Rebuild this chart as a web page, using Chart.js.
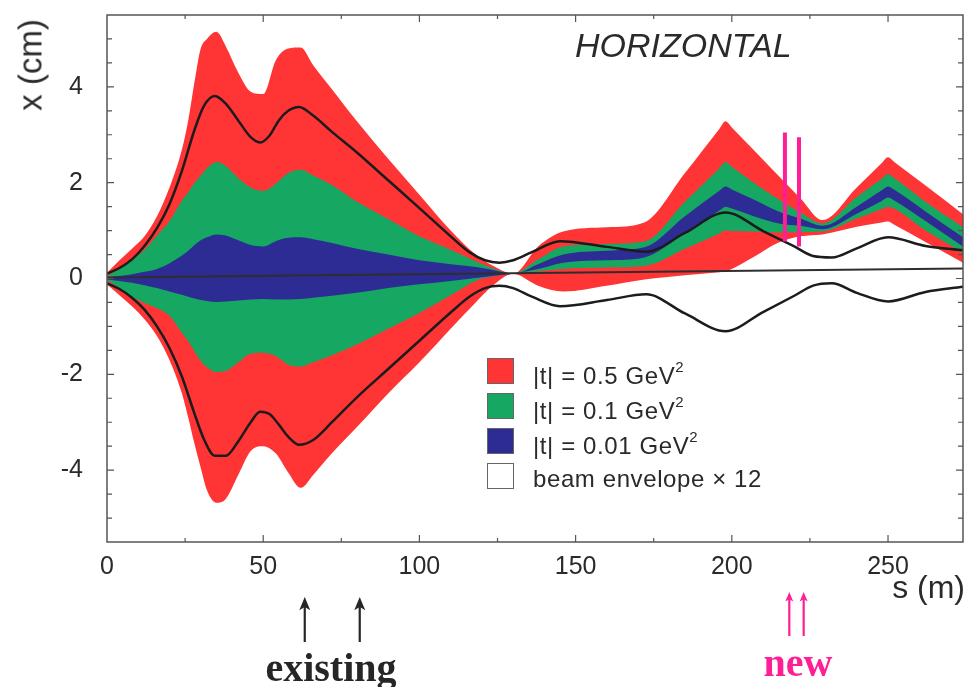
<!DOCTYPE html>
<html>
<head>
<meta charset="utf-8">
<script src="https://cdn.jsdelivr.net/npm/chart.js@4.4.1/dist/chart.umd.min.js"></script>
<style>
    body { margin: 0; background: #fff; }
    #wrap { position: relative; width: 970px; height: 687px; font-family: 'Liberation Sans', Arial, sans-serif; color: #2a2a2a; }
    #chart { position: absolute; left: 0; top: 0; }
    .txt { position: absolute; white-space: nowrap; line-height: 1; }
    .y-title { left: 30px; top: 65px; font-size: 33px; transform: translate(-50%, -50%) rotate(-90deg); }
    .x-title { right: 5px; top: 571px; font-size: 32px; }
    .plane { left: 575px; top: 28px; font-size: 34px; font-style: italic; }
    .note { font-family: 'Liberation Serif', 'Times New Roman', serif; font-weight: bold; font-size: 40px; transform: translateX(-50%); }
    .legend-row { position: absolute; left: 487px; height: 25px; }
    .legend-box { position: absolute; left: 0; top: 0; width: 25px; height: 24px; border: 1px solid #666; }
    .legend-text { position: absolute; left: 46px; top: 4px; font-size: 24px; letter-spacing: 0.6px; line-height: 1; white-space: nowrap; }
    .legend-text sup { font-size: 15px; position: relative; top: -3px; }
</style>
</head>
<body>
<div id="wrap">
    <canvas id="chart" width="970" height="687"></canvas>
    <div class="txt y-title">x (cm)</div>
    <div class="txt x-title">s (m)</div>
    <div class="txt plane">HORIZONTAL</div>
    <div class="txt note" style="left:331px; top:648px; color:#262626;">existing</div>
    <div class="txt note" style="left:798px; top:643px; color:#ff1e96;">new</div>
    <div id="legend"></div>
</div>
<script>
// s positions (m) shared by the six band edges
const sBand = [0, 4, 8, 12, 16, 20, 24, 26, 28, 30, 32, 35, 38, 42, 46, 50, 54, 58, 62, 66, 72, 80, 90, 100,
    110, 118, 124, 130, 138, 146, 160, 172, 185, 196, 198, 200, 207, 215, 222, 229, 240, 248, 250, 252, 262, 274];

// |t| = 0.5 GeV^2
const redUpper = [0.12, 0.38, 0.62, 0.88, 1.3, 1.9, 2.7, 3.3, 4.1, 4.8, 5.0, 5.15, 4.85, 4.3, 3.9, 3.85, 4.55, 4.8, 4.82, 4.45,
    3.95, 3.28, 2.5, 1.75, 1.0, 0.5, 0.25, 0.1, 0.67, 0.98, 1.07, 1.17, 2.2, 3.12, 3.28, 3.15, 2.68, 2.14, 1.67, 1.22, 1.9,
    2.41, 2.53, 2.43, 1.94, 1.34];
const redLower = [-0.12, -0.35, -0.58, -0.85, -1.2, -1.7, -2.4, -2.9, -3.45, -3.95, -4.42, -4.68, -4.6, -4.1, -3.6, -3.5, -3.65,
    -4.05, -4.37, -4.1, -3.65, -3.1, -2.4, -1.75, -1.05, -0.5, -0.12, 0.1, -0.15, -0.27, -0.15, -0.02, 0.07, 0.13, 0.15, 0.2,
    0.45, 0.75, 0.88, 0.92, 1.08, 1.17, 1.19, 1.12, 0.76, 0.33];

// |t| = 0.1 GeV^2
const greenUpper = [0.05, 0.2, 0.38, 0.6, 0.9, 1.2, 1.63, 1.8, 2.0, 2.15, 2.3, 2.43, 2.35, 2.1, 1.9, 1.83, 1.98, 2.2, 2.27, 2.15,
    1.95, 1.6, 1.24, 0.88, 0.6, 0.36, 0.2, 0.1, 0.4, 0.67, 0.72, 0.77, 1.6, 2.3, 2.43, 2.33, 2.0, 1.65, 1.38, 1.15, 1.7,
    2.08, 2.18, 2.1, 1.6, 1.07];
const greenLower = [-0.03, -0.2, -0.38, -0.51, -0.62, -0.78, -1.14, -1.31, -1.52, -1.72, -1.85, -1.95, -1.93, -1.75, -1.57, -1.55,
    -1.62, -1.8, -1.84, -1.75, -1.6, -1.38, -1.05, -0.72, -0.35, -0.05, 0.05, 0.1, 0.15, 0.2, 0.23, 0.26, 0.62, 0.94, 1.0, 0.99,
    0.98, 0.96, 0.97, 0.98, 1.25, 1.45, 1.5, 1.46, 1.0, 0.54];

// |t| = 0.01 GeV^2
const blueUpper = [0.02, 0.05, 0.09, 0.14, 0.2, 0.32, 0.48, 0.58, 0.7, 0.8, 0.86, 0.92, 0.9, 0.8, 0.7, 0.67, 0.78, 0.85, 0.86, 0.82,
    0.74, 0.62, 0.5, 0.38, 0.3, 0.24, 0.17, 0.1, 0.3, 0.5, 0.58, 0.65, 1.3, 1.83, 1.92, 1.86, 1.65, 1.4, 1.25, 1.1, 1.5,
    1.84, 1.92, 1.85, 1.4, 0.86];
const blueLower = [-0.02, -0.05, -0.09, -0.14, -0.2, -0.27, -0.34, -0.38, -0.42, -0.45, -0.47, -0.49, -0.48, -0.46, -0.44, -0.43,
    -0.44, -0.44, -0.43, -0.4, -0.36, -0.3, -0.2, -0.12, -0.05, 0.01, 0.06, 0.1, 0.2, 0.33, 0.38, 0.44, 0.95, 1.42, 1.5, 1.46,
    1.3, 1.15, 1.1, 1.03, 1.35, 1.62, 1.69, 1.63, 1.2, 0.67];

// beam envelope x 12
const sEnv = [0, 4, 8, 12, 16, 20, 24, 28, 31, 34.5, 38, 42, 46, 49, 52, 55, 58, 61.5, 66, 72, 80, 90, 100, 110, 116, 121,
    125.6, 130, 136, 145, 160, 172.6, 185, 198, 210, 220, 226, 232, 240, 250, 262, 274];
const envUpper = [0.1, 0.22, 0.4, 0.68, 1.05, 1.55, 2.25, 3.1, 3.6, 3.81, 3.65, 3.3, 2.95, 2.84, 2.98, 3.3, 3.5, 3.58, 3.4,
    3.06, 2.63, 2.05, 1.47, 0.88, 0.55, 0.38, 0.33, 0.38, 0.55, 0.78, 0.66, 0.56, 0.95, 1.38, 0.99, 0.67, 0.47, 0.44, 0.63, 0.86,
    0.68, 0.59];
const envLower = [-0.1, -0.22, -0.4, -0.65, -1.0, -1.45, -2.05, -2.82, -3.35, -3.7, -3.7, -3.4, -3.0, -2.78, -2.83, -3.05, -3.3,
    -3.47, -3.37, -3.0, -2.48, -1.89, -1.3, -0.71, -0.38, -0.2, -0.15, -0.2, -0.38, -0.58, -0.45, -0.33, -0.73, -1.1, -0.7, -0.36,
    -0.15, -0.1, -0.3, -0.48, -0.28, -0.17];

// closed orbit
const sOrbit = [0, 274];
const orbit = [0.02, 0.21];

// new detector stations
const sNew = [217, 221.5];
const newTop = [3.05, 2.95];
const newBottom = [0.77, 0.67];

// magnet markers under the axis
const sExisting = [63.3, 80.9];
const sNewMarks = [218.4, 223];

const xTicks = [0, 50, 100, 150, 200, 250];
const yTicks = [-4, -2, 0, 2, 4];

const legendLabels = ['|t| = 0.5 GeV<sup>2</sup>', '|t| = 0.1 GeV<sup>2</sup>', '|t| = 0.01 GeV<sup>2</sup>', 'beam envelope × 12'];

const RED = '#ff3434';
const GREEN = '#16a862';
const BLUE = '#2c2c94';
const LINE = '#1c1c1c';
const PINK = '#ff1e96';

function pts(xs, ys) {
    return xs.map((x, i) => ({ x: x, y: ys[i] }));
}

function edge(xs, ys, color, fill) {
    return {
        data: pts(xs, ys),
        borderWidth: 0,
        borderColor: color,
        backgroundColor: color,
        fill: fill,
        pointRadius: 0,
        cubicInterpolationMode: 'monotone',
    };
}

function curve(xs, ys, color, width, smooth) {
    return {
        data: pts(xs, ys),
        borderColor: color,
        borderWidth: width,
        fill: false,
        pointRadius: 0,
        cubicInterpolationMode: smooth ? 'monotone' : 'default',
        tension: 0,
    };
}

// first dataset is drawn on top
const datasets = [
    curve([sNew[0], sNew[0]], [newTop[0], newBottom[0]], PINK, 4),
    curve([sNew[1], sNew[1]], [newTop[1], newBottom[1]], PINK, 4),
    curve(sOrbit, orbit, '#2e2e2e', 2),
    curve(sEnv, envUpper, LINE, 2.5, true),
    curve(sEnv, envLower, LINE, 2.5, true),
    edge(sBand, blueUpper, BLUE, '+1'),
    edge(sBand, blueLower, BLUE, false),
    edge(sBand, greenUpper, GREEN, '+1'),
    edge(sBand, greenLower, GREEN, false),
    edge(sBand, redUpper, RED, '+1'),
    edge(sBand, redLower, RED, false),
];

// frame with inward ticks on all four sides, plus the marker arrows below the axis
const frameTicks = {
    id: 'frameTicks',
    afterDraw(chart) {
        const { ctx, chartArea: a, scales: { x, y } } = chart;
        ctx.save();
        ctx.strokeStyle = '#555';
        ctx.lineWidth = 1.5;
        ctx.strokeRect(a.left, a.top, a.right - a.left, a.bottom - a.top);
        ctx.lineWidth = 1.2;
        ctx.beginPath();
        for (let s = 25; s < x.max; s += 25) {
            const px = x.getPixelForValue(s);
            const len = s % 50 ? 4 : 7;
            ctx.moveTo(px, a.bottom); ctx.lineTo(px, a.bottom - len);
            ctx.moveTo(px, a.top); ctx.lineTo(px, a.top + len);
        }
        for (let v = -5; v <= 5; v += 0.5) {
            const py = y.getPixelForValue(v);
            const len = v % 2 ? 5 : 7;
            ctx.moveTo(a.left, py); ctx.lineTo(a.left + len, py);
            ctx.moveTo(a.right, py); ctx.lineTo(a.right - len, py);
        }
        ctx.stroke();

        const arrow = (s, top, bottom, head, color) => {
            const px = x.getPixelForValue(s);
            ctx.strokeStyle = color;
            ctx.fillStyle = color;
            ctx.lineWidth = 2.2;
            ctx.beginPath();
            ctx.moveTo(px, bottom);
            ctx.lineTo(px, top + 4);
            ctx.stroke();
            ctx.beginPath();
            ctx.moveTo(px, top);
            ctx.lineTo(px - head / 2, top + head * 1.2);
            ctx.lineTo(px, top + head * 0.9);
            ctx.lineTo(px + head / 2, top + head * 1.2);
            ctx.closePath();
            ctx.fill();
        };
        sExisting.forEach((s) => arrow(s, 597, 642, 11, '#262626'));
        sNewMarks.forEach((s) => arrow(s, 592, 636, 8, PINK));
        ctx.restore();
    }
};

const tickFont = { family: "'Liberation Sans', Arial, sans-serif", size: 25 };

new Chart(document.getElementById('chart'), {
    type: 'line',
    data: { datasets: datasets },
    options: {
        responsive: false,
        animation: false,
        layout: { padding: { top: 15, right: 7, left: 0, bottom: 0 } },
        plugins: { legend: { display: false }, tooltip: { enabled: false } },
        scales: {
            x: {
                type: 'linear',
                min: 0,
                max: 274,
                grid: { display: false, drawTicks: false },
                border: { display: false },
                afterBuildTicks: (scale) => { scale.ticks = xTicks.map((v) => ({ value: v })); },
                afterFit: (scale) => { scale.height = 145; scale.paddingLeft = 0; scale.paddingRight = 0; },
                ticks: { autoSkip: false, maxRotation: 0, padding: 10, color: '#2a2a2a', font: tickFont },
            },
            y: {
                min: -5.5,
                max: 5.5,
                grid: { display: false, drawTicks: false },
                border: { display: false },
                afterBuildTicks: (scale) => { scale.ticks = yTicks.map((v) => ({ value: v })); },
                afterFit: (scale) => { scale.width = 107; scale.paddingTop = 0; scale.paddingBottom = 0; },
                ticks: { padding: 24, color: '#2a2a2a', font: tickFont },
            },
        },
    },
    plugins: [frameTicks],
});

// legend boxes take the band colours
const legendColors = [RED, GREEN, BLUE, '#ffffff'];
const legend = document.getElementById('legend');
legendLabels.forEach((label, i) => {
    const row = document.createElement('div');
    row.className = 'legend-row';
    row.style.top = (358 + i * 35) + 'px';
    row.innerHTML = `<div class="legend-box" style="background:${legendColors[i]}"></div>
        <div class="legend-text">${label}</div>`;
    legend.appendChild(row);
});
</script>
</body>
</html>
